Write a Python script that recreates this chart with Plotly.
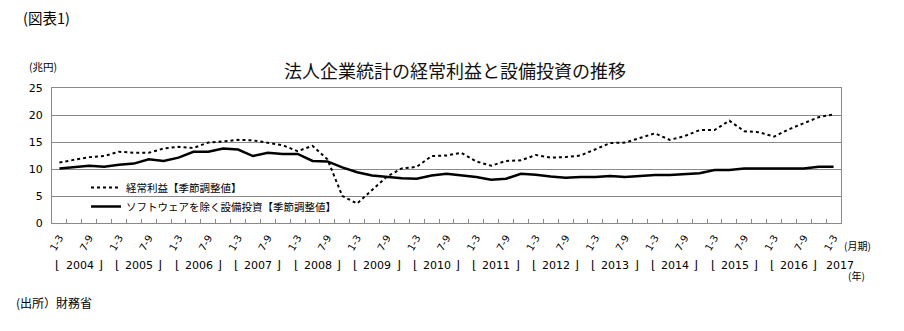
import plotly.graph_objects as go

# Quarterly periods: 2004 1-3 through 2017 1-3
years = list(range(2004, 2018))
quarters = ["1-3", "4-6", "7-9", "10-12"]
categories = [f"{y} {q}" for y in years[:-1] for q in quarters] + ["2017 1-3"]
tick_text = [c.split(" ")[1] if c.split(" ")[1] in ("1-3", "7-9") else "" for c in categories]

# 経常利益（季節調整値, 兆円）
ordinary_profit = [
    11.2, 11.7, 12.2, 12.4, 13.2, 13.0, 13.0, 13.8, 14.1, 13.9,
    14.9, 15.1, 15.4, 15.3, 14.8, 14.4, 13.3, 14.3, 11.8, 5.0,
    3.6, 6.1, 8.6, 10.1, 10.4, 12.4, 12.5, 13.0, 11.4, 10.6,
    11.5, 11.6, 12.6, 12.1, 12.2, 12.5, 13.6, 14.8, 14.9, 15.7,
    16.6, 15.4, 16.1, 17.2, 17.2, 18.95, 17.0, 16.8, 16.0, 17.35,
    18.45, 19.6, 20.1,
]

# ソフトウェアを除く設備投資（季節調整値, 兆円）
capex_ex_software = [
    10.1, 10.4, 10.6, 10.4, 10.8, 11.0, 11.8, 11.5, 12.1, 13.2,
    13.2, 13.8, 13.6, 12.4, 13.0, 12.8, 12.8, 11.5, 11.4, 10.3,
    9.4, 8.8, 8.5, 8.3, 8.2, 8.8, 9.1, 8.8, 8.5, 8.0,
    8.2, 9.1, 8.95, 8.6, 8.4, 8.5, 8.5, 8.7, 8.5, 8.7,
    8.9, 8.9, 9.1, 9.2, 9.8, 9.8, 10.1, 10.1, 10.1, 10.1,
    10.1, 10.4, 10.4,
]

y_ticks = [0, 5, 10, 15, 20, 25]

W, H = 904, 331
L, R, T, B = 52, 841, 88, 223   # plot area in pixels

def px(x):
    return (x - L) / (R - L)

def py(y):
    return (B - y) / (B - T)

JP = "Noto Sans CJK JP"
NUM = "DejaVu Sans"
GRID = "#8a8a8a"

fig = go.Figure()
fig.add_trace(go.Scatter(
    x=categories, y=ordinary_profit, mode="lines",
    name="経常利益【季節調整値】",
    line=dict(color="#000000", width=2, dash="dot"),
))
fig.add_trace(go.Scatter(
    x=categories, y=capex_ex_software, mode="lines",
    name="ソフトウェアを除く設備投資【季節調整値】",
    line=dict(color="#000000", width=2.5),
))

annotations = [
    dict(text="(図表1)", x=px(21), y=py(17), xanchor="left", yanchor="middle",
         font=dict(size=14.5, family=JP)),
    dict(text="(兆円)", x=px(27), y=py(66), xanchor="left", yanchor="middle",
         font=dict(size=10.5, family=JP)),
    dict(text="(月期)", x=px(842), y=py(245), xanchor="left", yanchor="middle",
         font=dict(size=10, family=JP)),
    dict(text="(年)", x=px(846), y=py(275), xanchor="left", yanchor="middle",
         font=dict(size=10, family=JP)),
    dict(text="(出所）財務省", x=px(14), y=py(302), xanchor="left", yanchor="middle",
         font=dict(size=12, family=JP)),
]

# Year labels with corner brackets below the quarter ticks
year_y = py(265)
for k, yr in enumerate(years[:-1]):
    start = 4 * k - 0.5
    annotations.append(dict(text=str(yr), x=start + 1.85, xref="x", y=year_y, yref="paper",
                            xanchor="center", yanchor="middle", showarrow=False,
                            font=dict(size=11, family=NUM)))
    annotations.append(dict(text="⌊", x=start + 0.1, xref="x", y=year_y, yref="paper",
                            xanchor="left", yanchor="middle", showarrow=False,
                            font=dict(size=12, family=NUM)))
    annotations.append(dict(text="⌋", x=start + 3.55, xref="x", y=year_y, yref="paper",
                            xanchor="right", yanchor="middle", showarrow=False,
                            font=dict(size=12, family=NUM)))
annotations.append(dict(text="2017", x=52.4, xref="x", y=year_y, yref="paper",
                        xanchor="center", yanchor="middle", showarrow=False,
                        font=dict(size=11, family=NUM)))

for a in annotations:
    a.setdefault("xref", "paper")
    a.setdefault("yref", "paper")
    a.setdefault("showarrow", False)

fig.update_layout(
    width=W, height=H,
    margin=dict(l=L, r=W - R, t=T, b=H - B),
    paper_bgcolor="white", plot_bgcolor="white",
    title=dict(text="法人企業統計の経常利益と設備投資の推移", x=455 / W, xanchor="center",
               y=1 - 72 / H, yanchor="middle",
               font=dict(size=18, family=JP, color="#111111")),
    font=dict(family=JP, color="#000000"),
    showlegend=True,
    legend=dict(x=px(86), y=py(173), xanchor="left", yanchor="top",
                bgcolor="rgba(0,0,0,0)", font=dict(size=10.5, family=JP),
                itemwidth=30, tracegroupgap=0),
    annotations=annotations,
    xaxis=dict(
        type="category", categoryorder="array", categoryarray=categories,
        range=[-0.5, len(categories) - 0.5],
        tickmode="array", tickvals=categories, ticktext=tick_text,
        tickson="boundaries", ticks="inside", ticklen=4, tickcolor=GRID,
        tickangle=-60, tickfont=dict(size=10, family=NUM),
        ticklabelstandoff=4,
        showgrid=False, showline=True, linecolor=GRID, linewidth=1, mirror=True,
        zeroline=False,
    ),
    yaxis=dict(
        range=[0, 25], tickvals=y_ticks, ticks="",
        tickfont=dict(size=11, family=NUM),
        ticklabelstandoff=6,
        showgrid=True, gridcolor=GRID, gridwidth=1,
        showline=True, linecolor=GRID, linewidth=1, mirror=True,
        zeroline=False,
    ),
)

fig.write_html("out.html")
